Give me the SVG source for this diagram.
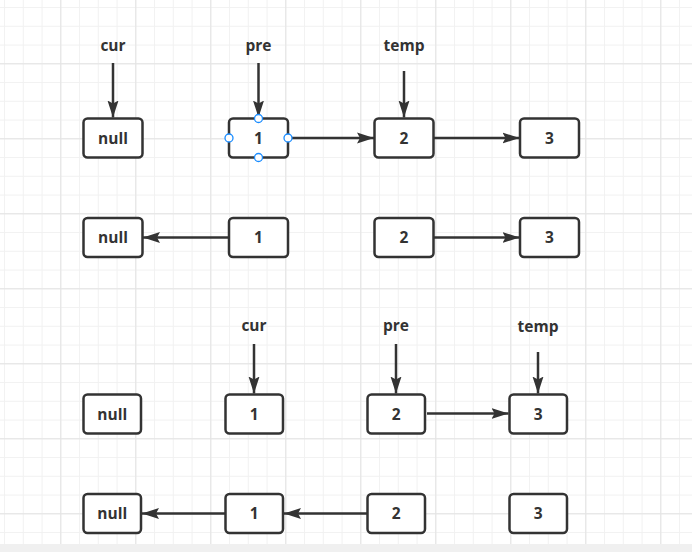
<svg xmlns="http://www.w3.org/2000/svg" width="692" height="552" viewBox="0 0 692 552">
<style>
.box{fill:#fff;stroke:#333;stroke-width:2.5}
.t{font-family:"Open Sans","Noto Sans",sans-serif;font-weight:bold;font-size:15.5px;fill:#333;text-anchor:middle}
.c{stroke:#333;stroke-width:2.5;fill:none;marker-end:url(#ah)}
.h{fill:#fff;stroke:#1a8cff;stroke-width:1.3}
</style>
<defs>
<pattern id="minor" patternUnits="userSpaceOnUse" x="4.05" y="7.05" width="18.75" height="18.75">
<path d="M0,0.5 H18.75 M0.5,0 V18.75" stroke="#f1f1f1" stroke-width="1" fill="none"/>
</pattern>
<pattern id="major" patternUnits="userSpaceOnUse" x="60.3" y="63.3" width="75" height="75">
<path d="M0,0.5 H75 M0.5,0 V75" stroke="#e3e3e3" stroke-width="1" fill="none"/>
</pattern>
<marker id="ah" markerUnits="userSpaceOnUse" markerWidth="18" markerHeight="12" refX="17" refY="5.5" orient="auto" viewBox="0 0 18 11">
<path d="M0,0 L17,5.5 L0,11 L3,5.5 z" fill="#333"/>
</marker>
</defs>
<rect width="692" height="552" fill="#fff"/>
<rect width="692" height="544" fill="url(#minor)"/>
<rect width="692" height="544" fill="url(#major)"/>
<rect y="544" width="692" height="8" fill="#f0f0f0"/>

<g id="connectors">
<line class="c" x1="113" y1="63" x2="113" y2="117.5"/>
<line class="c" x1="258.5" y1="63" x2="258.5" y2="117.5"/>
<line class="c" x1="404" y1="71" x2="404" y2="117.5"/>
<line class="c" x1="288.5" y1="138" x2="374" y2="138"/>
<line class="c" x1="434" y1="138" x2="519.5" y2="138"/>
<line class="c" x1="228.5" y1="237.5" x2="143" y2="237.5"/>
<line class="c" x1="434" y1="237.5" x2="519.5" y2="237.5"/>
<line class="c" x1="254" y1="344" x2="254" y2="393.5"/>
<line class="c" x1="396" y1="344" x2="396" y2="393.5"/>
<line class="c" x1="538" y1="352" x2="538" y2="393.5"/>
<line class="c" x1="427" y1="413.5" x2="508.5" y2="413.5"/>
<line class="c" x1="225" y1="513.5" x2="142" y2="513.5"/>
<line class="c" x1="367" y1="513.5" x2="284" y2="513.5"/>
</g>

<g id="lbl-cur1"><text class="t" x="113" y="51">cur</text></g>
<g id="lbl-pre1"><text class="t" x="258.5" y="51">pre</text></g>
<g id="lbl-temp1"><text class="t" x="404" y="51">temp</text></g>

<g id="r1-null"><rect class="box" x="83.5" y="118.5" width="59" height="39" rx="4"/><text class="t" x="113" y="143.5">null</text></g>
<g id="r1-1"><rect class="box" x="229" y="118.5" width="59" height="39" rx="4"/><text class="t" x="258.5" y="143.5">1</text>
<circle class="h" cx="258.5" cy="118.5" r="4"/><circle class="h" cx="229" cy="138" r="4"/><circle class="h" cx="288" cy="138" r="4"/><circle class="h" cx="258.5" cy="157.5" r="4"/></g>
<g id="r1-2"><rect class="box" x="374.5" y="118.5" width="59" height="39" rx="4"/><text class="t" x="404" y="143.5">2</text></g>
<g id="r1-3"><rect class="box" x="520" y="118.5" width="59" height="39" rx="4"/><text class="t" x="549.5" y="143.5">3</text></g>

<g id="r2-null"><rect class="box" x="83.5" y="218" width="59" height="39" rx="4"/><text class="t" x="113" y="243">null</text></g>
<g id="r2-1"><rect class="box" x="229" y="218" width="59" height="39" rx="4"/><text class="t" x="258.5" y="243">1</text></g>
<g id="r2-2"><rect class="box" x="374.5" y="218" width="59" height="39" rx="4"/><text class="t" x="404" y="243">2</text></g>
<g id="r2-3"><rect class="box" x="520" y="218" width="59" height="39" rx="4"/><text class="t" x="549.5" y="243">3</text></g>

<g id="lbl-cur2"><text class="t" x="254" y="331">cur</text></g>
<g id="lbl-pre2"><text class="t" x="396" y="331">pre</text></g>
<g id="lbl-temp2"><text class="t" x="538" y="332">temp</text></g>

<g id="r3-null"><rect class="box" x="83.5" y="394.5" width="57.5" height="39" rx="4"/><text class="t" x="112.25" y="419.5">null</text></g>
<g id="r3-1"><rect class="box" x="225.5" y="394.5" width="57.5" height="39" rx="4"/><text class="t" x="254.25" y="419.5">1</text></g>
<g id="r3-2"><rect class="box" x="367.5" y="394.5" width="57.5" height="39" rx="4"/><text class="t" x="396.25" y="419.5">2</text></g>
<g id="r3-3"><rect class="box" x="509.5" y="394.5" width="57.5" height="39" rx="4"/><text class="t" x="538.25" y="419.5">3</text></g>

<g id="r4-null"><rect class="box" x="83.5" y="494" width="57.5" height="39" rx="4"/><text class="t" x="112.25" y="519">null</text></g>
<g id="r4-1"><rect class="box" x="225.5" y="494" width="57.5" height="39" rx="4"/><text class="t" x="254.25" y="519">1</text></g>
<g id="r4-2"><rect class="box" x="367.5" y="494" width="57.5" height="39" rx="4"/><text class="t" x="396.25" y="519">2</text></g>
<g id="r4-3"><rect class="box" x="509.5" y="494" width="57.5" height="39" rx="4"/><text class="t" x="538.25" y="519">3</text></g>
</svg>
